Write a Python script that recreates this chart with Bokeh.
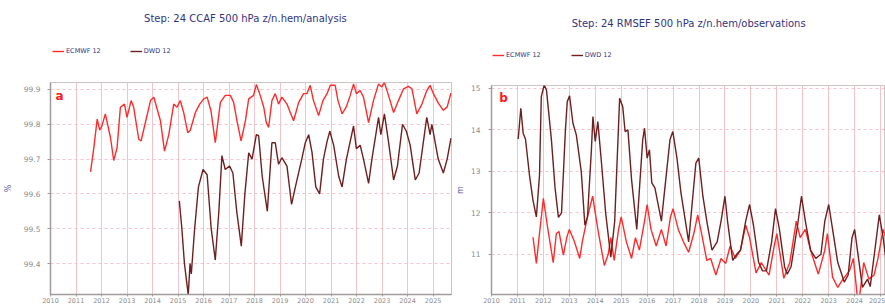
from bokeh.plotting import figure
from bokeh.models import Label, Legend, LegendItem, FixedTicker, Range1d
from bokeh.layouts import row, column
from bokeh.embed import file_html
from bokeh.resources import INLINE

# ---------------- data ----------------
years_ticks = list(range(2010, 2026))

# panel a : CCAF (%)
ecmwf_a_year = [2011.57, 2011.70, 2011.83, 2011.93, 2012.02, 2012.15, 2012.35, 2012.48, 2012.61, 2012.74,
                2012.90, 2013.00, 2013.16, 2013.26, 2013.46, 2013.55, 2013.72, 2013.92, 2014.05, 2014.18,
                2014.31, 2014.47, 2014.64, 2014.83, 2014.96, 2015.09, 2015.22, 2015.38, 2015.48, 2015.68,
                2015.85, 2016.01, 2016.14, 2016.29, 2016.46, 2016.66, 2016.85, 2017.05, 2017.18, 2017.31,
                2017.47, 2017.64, 2017.77, 2017.96, 2018.07, 2018.20, 2018.36, 2018.46, 2018.55, 2018.68,
                2018.81, 2018.94, 2019.07, 2019.27, 2019.40, 2019.53, 2019.73, 2019.92, 2020.05, 2020.18,
                2020.31, 2020.51, 2020.68, 2020.84, 2020.97, 2021.16, 2021.27, 2021.43, 2021.59, 2021.75,
                2021.88, 2021.99, 2022.14, 2022.27, 2022.47, 2022.66, 2022.86, 2022.99, 2023.09, 2023.25,
                2023.45, 2023.64, 2023.84, 2024.03, 2024.17, 2024.36, 2024.56, 2024.75, 2024.88, 2025.01,
                2025.21, 2025.40, 2025.55, 2025.70]
ecmwf_a_val = [99.663, 99.733, 99.815, 99.783, 99.796, 99.830, 99.762, 99.696, 99.733, 99.849,
               99.858, 99.820, 99.868, 99.849, 99.757, 99.752, 99.805, 99.868, 99.878, 99.844,
               99.810, 99.723, 99.771, 99.858, 99.849, 99.868, 99.834, 99.776, 99.783, 99.834,
               99.858, 99.873, 99.878, 99.839, 99.747, 99.863, 99.883, 99.883, 99.863, 99.810,
               99.752, 99.810, 99.873, 99.883, 99.914, 99.888, 99.849, 99.805, 99.791, 99.868,
               99.888, 99.858, 99.878, 99.858, 99.834, 99.810, 99.863, 99.888, 99.888, 99.912,
               99.868, 99.825, 99.868, 99.888, 99.912, 99.912, 99.868, 99.830, 99.849, 99.883,
               99.916, 99.888, 99.897, 99.878, 99.805, 99.868, 99.916, 99.907, 99.920, 99.883,
               99.834, 99.868, 99.902, 99.909, 99.902, 99.830, 99.858, 99.897, 99.912, 99.888,
               99.860, 99.840, 99.850, 99.890]

dwd_a_year = [2015.05, 2015.15, 2015.25, 2015.40, 2015.47, 2015.52, 2015.65, 2015.80, 2015.98, 2016.14,
              2016.30, 2016.46, 2016.60, 2016.72, 2016.85, 2017.02, 2017.15, 2017.30, 2017.48, 2017.62,
              2017.77, 2017.90, 2018.07, 2018.16, 2018.30, 2018.50, 2018.68, 2018.81, 2018.94, 2019.07,
              2019.27, 2019.45, 2019.60, 2019.85, 2019.99, 2020.12, 2020.25, 2020.40, 2020.55, 2020.70,
              2020.84, 2020.95, 2021.10, 2021.30, 2021.43, 2021.60, 2021.88, 2021.99, 2022.14, 2022.27,
              2022.47, 2022.60, 2022.86, 2022.95, 2023.09, 2023.25, 2023.45, 2023.60, 2023.80, 2023.95,
              2024.10, 2024.30, 2024.45, 2024.75, 2024.88, 2024.95, 2025.20, 2025.40, 2025.55, 2025.70]
dwd_a_val = [99.58, 99.50, 99.40, 99.31, 99.40, 99.37, 99.50, 99.62, 99.67, 99.655,
             99.50, 99.41, 99.55, 99.71, 99.67, 99.68, 99.66, 99.55, 99.45, 99.60,
             99.718, 99.70, 99.77, 99.767, 99.65, 99.55, 99.747, 99.747, 99.685, 99.704,
             99.68, 99.57, 99.62, 99.70, 99.747, 99.77, 99.72, 99.62, 99.60, 99.70,
             99.75, 99.78, 99.74, 99.65, 99.62, 99.70, 99.795, 99.73, 99.74, 99.70,
             99.63, 99.70, 99.82, 99.77, 99.83, 99.75, 99.64, 99.68, 99.80, 99.78,
             99.74, 99.64, 99.66, 99.82, 99.77, 99.80, 99.70, 99.66, 99.70, 99.76]

# panel b : RMSEF (m)
ecmwf_b_year = [2011.60, 2011.73, 2011.85, 2012.00, 2012.15, 2012.38, 2012.50, 2012.60, 2012.77, 2012.90,
                2013.00, 2013.20, 2013.40, 2013.50, 2013.70, 2013.90, 2014.10, 2014.35, 2014.50, 2014.60,
                2014.73, 2014.90, 2015.00, 2015.20, 2015.40, 2015.55, 2015.70, 2015.90, 2016.00, 2016.15,
                2016.35, 2016.55, 2016.73, 2016.90, 2017.00, 2017.20, 2017.40, 2017.60, 2017.80, 2017.95,
                2018.10, 2018.30, 2018.45, 2018.65, 2018.85, 2019.03, 2019.20, 2019.40, 2019.60, 2019.80,
                2019.95, 2020.20, 2020.40, 2020.70, 2020.90, 2021.00, 2021.27, 2021.50, 2021.75, 2021.90,
                2022.10, 2022.30, 2022.60, 2022.85, 2022.95, 2023.15, 2023.35, 2023.55, 2023.80, 2023.95,
                2024.10, 2024.20, 2024.35, 2024.55, 2024.75, 2024.90, 2025.10, 2025.20]
ecmwf_b_val = [11.41, 10.78, 11.50, 12.35, 11.70, 10.80, 11.50, 11.55, 10.98, 11.40,
               11.60, 11.30, 10.90, 11.30, 11.90, 12.40, 11.60, 10.73, 11.00, 11.40,
               10.85, 11.60, 11.90, 11.30, 10.90, 11.40, 11.10, 11.80, 12.20, 11.60,
               11.20, 11.60, 11.20, 11.90, 12.10, 11.60, 11.30, 11.05, 11.50, 11.95,
               11.50, 10.85, 10.90, 10.50, 10.90, 10.78, 11.20, 10.90, 11.10, 11.70,
               11.40, 10.55, 10.80, 10.50, 11.20, 11.50, 10.42, 10.80, 11.80, 11.40,
               11.60, 11.10, 10.52, 11.10, 11.50, 10.45, 10.20, 10.40, 10.60, 10.90,
               10.00, 10.02, 10.80, 10.40, 10.50, 10.90, 11.60, 11.40]

dwd_b_year = [2011.03, 2011.13, 2011.22, 2011.31, 2011.47, 2011.60, 2011.73, 2011.85, 2011.92, 2012.03,
              2012.12, 2012.31, 2012.45, 2012.58, 2012.70, 2012.85, 2012.92, 2013.01, 2013.14, 2013.27,
              2013.46, 2013.60, 2013.70, 2013.85, 2013.91, 2014.00, 2014.10, 2014.23, 2014.40, 2014.60,
              2014.75, 2014.94, 2015.06, 2015.15, 2015.26, 2015.40, 2015.60, 2015.83, 2015.90, 2016.00,
              2016.09, 2016.18, 2016.30, 2016.55, 2016.88, 2016.99, 2017.15, 2017.30, 2017.60, 2017.88,
              2017.99, 2018.15, 2018.30, 2018.50, 2018.70, 2018.85, 2019.00, 2019.10, 2019.30, 2019.45,
              2019.60, 2019.80, 2019.95, 2020.10, 2020.30, 2020.45, 2020.60, 2020.80, 2020.95, 2021.10,
              2021.30, 2021.40, 2021.55, 2021.80, 2021.95, 2022.10, 2022.30, 2022.50, 2022.70, 2022.85,
              2023.00, 2023.15, 2023.35, 2023.60, 2023.75, 2023.90, 2024.00, 2024.15, 2024.30, 2024.50,
              2024.60, 2024.80, 2024.95, 2025.10, 2025.20]
dwd_b_val = [13.78, 14.52, 13.92, 13.78, 12.88, 12.30, 11.90, 12.90, 14.80, 15.08,
             14.96, 13.76, 12.60, 11.89, 12.00, 14.00, 14.68, 14.82, 14.16, 13.88,
             13.00, 11.70, 11.90, 13.50, 14.32, 13.72, 14.20, 13.28, 12.00, 10.93,
             11.80, 14.76, 14.56, 13.96, 14.00, 12.80, 11.60, 13.76, 14.04, 13.32,
             13.52, 12.72, 12.60, 11.80, 13.76, 13.96, 13.32, 12.50, 11.30, 13.20,
             13.32, 12.40, 11.80, 11.10, 11.30, 11.80, 12.40, 11.80, 10.85, 11.00,
             11.10, 11.80, 12.20, 11.70, 10.80, 10.60, 10.60, 11.30, 12.10, 11.60,
             10.70, 10.52, 10.70, 11.70, 12.40, 11.80, 11.10, 10.90, 11.00, 11.80,
             12.20, 11.60, 10.80, 10.33, 10.50, 11.40, 11.60, 10.90, 10.20, 10.40,
             10.22, 11.20, 11.95, 11.40, 10.90]

series_names = ["ECMWF 12", "DWD 12"]
series_colors = ["#ff2b2b", "#6e1f1f"]

FONT = "DejaVu Sans"
NAVY = "#33337d"


def make_panel(title, letter, ylab, xr, yr, yticks, series,
               fw, fh, bl, br, head_h, ylab_standoff, ytick_standoff,
               title_x, title_y, leg_x, leg_y, leg_spacing, letter_xy):
    x_range = Range1d(*xr)

    # ---- header strip: title + legend ----
    h = figure(frame_width=fw, frame_height=head_h, min_border_left=bl, min_border_right=br,
               min_border_top=0, min_border_bottom=0, x_range=Range1d(*xr), y_range=Range1d(0, head_h),
               x_axis_location=None, y_axis_location=None,
               output_backend="svg", toolbar_location=None, title=None)
    h.grid.visible = False
    h.outline_line_color = None
    h.background_fill_color = "white"
    h.border_fill_color = "white"
    h.add_layout(Label(x=title_x, y=title_y, text=title, text_align="center", text_baseline="middle",
                       text_font=FONT, text_font_size="10px", text_color=NAVY))
    items = []
    for name, col in zip(series_names, series_colors):
        # legend keys only: a segment placed below the header's visible range
        r = h.line(x=[xr[0], xr[1]], y=[-50, -50], line_color=col, line_width=1.4)
        items.append(LegendItem(label=name, renderers=[r]))
    leg = Legend(items=items, orientation="horizontal", location=(leg_x, leg_y),
                 glyph_width=12, glyph_height=8, label_height=8, label_standoff=2,
                 spacing=leg_spacing, padding=1, margin=0,
                 background_fill_alpha=0, border_line_alpha=0,
                 label_text_font=FONT, label_text_font_size="6.5px", label_text_color=NAVY)
    h.add_layout(leg)

    # ---- main plot ----
    p = figure(frame_width=fw, frame_height=fh, min_border_left=bl, min_border_right=br,
               min_border_top=2, min_border_bottom=11,
               x_range=x_range, y_range=Range1d(*yr),
               output_backend="svg", toolbar_location=None, title=None)
    p.background_fill_color = "white"
    p.border_fill_color = "white"
    p.outline_line_color = "#cfc4c4"
    p.outline_line_width = 1

    p.xaxis.ticker = FixedTicker(ticks=years_ticks)
    p.yaxis.ticker = FixedTicker(ticks=yticks)
    for ax in (p.xaxis[0], p.yaxis[0]):
        ax.axis_line_color = "#a09a9a"
        ax.axis_line_width = 1.5
        ax.major_tick_line_color = "#a09a9a"
        ax.minor_tick_line_color = None
        ax.major_tick_in = 0
        ax.major_label_text_color = "#8c8c8c"
        ax.major_label_text_font = FONT
    p.xaxis.major_tick_out = 2
    p.xaxis.major_label_standoff = 1
    p.xaxis.major_label_text_font_size = "6.5px"
    p.yaxis.major_tick_out = 3
    p.yaxis.major_label_standoff = ytick_standoff
    p.yaxis.major_label_text_font_size = "7.5px"
    p.yaxis.axis_label = ylab
    p.yaxis.axis_label_text_font = FONT
    p.yaxis.axis_label_text_font_size = "8px"
    p.yaxis.axis_label_text_font_style = "normal"
    p.yaxis.axis_label_text_color = "#5a5aa8"
    p.yaxis.axis_label_standoff = ylab_standoff

    p.xgrid.grid_line_color = "#f1c4cc"
    p.xgrid.grid_line_width = 1
    p.ygrid.grid_line_color = "#f6c3cc"
    p.ygrid.grid_line_dash = "3 3"
    p.ygrid.grid_line_width = 1

    for (xs, ys), col in zip(series, series_colors):
        p.line(xs, ys, line_color=col, line_width=1.4)

    p.add_layout(Label(x=letter_xy[0], y=letter_xy[1], text=letter, text_align="left",
                       text_baseline="middle", text_font=FONT, text_font_size="12px",
                       text_font_style="bold", text_color="#ff1a1a"))
    return column(h, p, spacing=0)


pa = make_panel("Step: 24 CCAF 500 hPa z/n.hem/analysis", "a", "%",
                (2010.0, 2025.72), (99.311, 99.92), [99.4, 99.5, 99.6, 99.7, 99.8, 99.9],
                [(ecmwf_a_year, ecmwf_a_val), (dwd_a_year, dwd_a_val)],
                401, 212, 50, 1, 80, 8, 7,
                2017.64, 62, 1, 24, 29, (2010.2, 99.88))
pb = make_panel("Step: 24 RMSEF 500 hPa z/n.hem/observations", "b", "m",
                (2010.0, 2025.19), (10.03, 15.07), [11, 12, 13, 14, 15],
                [(ecmwf_b_year, ecmwf_b_val), (dwd_b_year, dwd_b_val)],
                394, 209, 39, 0, 83, 3, 8,
                2017.60, 60, 0, 23, 30, (2010.3, 14.78))

layout = row(pa, pb, spacing=0)
open("out.html", "w").write(file_html(layout, INLINE))
